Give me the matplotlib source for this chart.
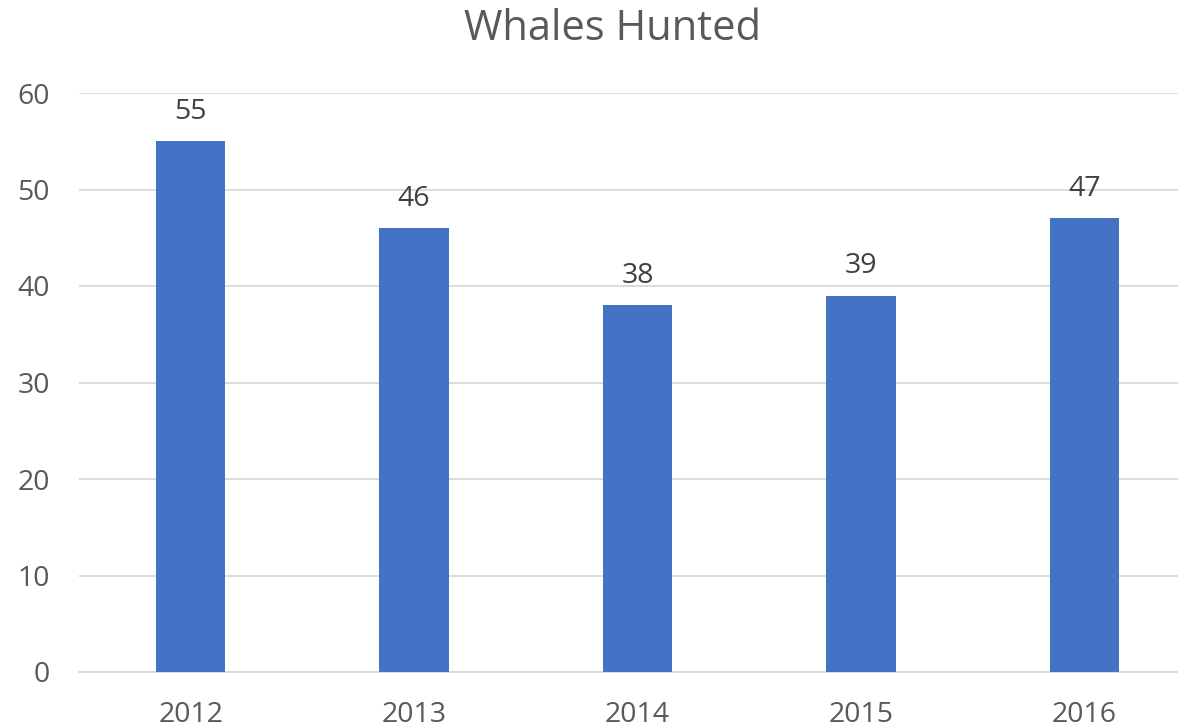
import matplotlib
matplotlib.use("Agg")
import matplotlib.pyplot as plt

years = ["2012", "2013", "2014", "2015", "2016"]
whales = [55, 46, 38, 39, 47]
yticks = [0, 10, 20, 30, 40, 50, 60]

W, H = 1178, 727
fig = plt.figure(figsize=(W / 100, H / 100), dpi=100)
plt.rcParams['font.family'] = ['Open Sans', 'DejaVu Sans']

left, right = 79, 1196
bottom, top = 672, 93
ax = fig.add_axes([left / W, (H - bottom) / H, (right - left) / W, (bottom - top) / H])

x = list(range(len(years)))
ax.bar(x, whales, width=0.31, color="#4472C4", zorder=3)
ax.set_xlim(-0.5, len(years) - 0.5)
ax.set_ylim(0, 60)
ax.set_yticks(yticks)
ax.set_xticks(x)
ax.set_xticklabels(years)
ax.grid(axis="y", color="#D9D9D9", linewidth=1.3, zorder=0)
for s in ["top", "right", "left"]:
    ax.spines[s].set_visible(False)
ax.spines["bottom"].set_color("#D9D9D9")
ax.spines["bottom"].set_linewidth(1.3)
ax.tick_params(axis="both", length=0, labelsize=20.5, colors="#595959")
ax.tick_params(axis="y", pad=21)
ax.tick_params(axis="x", pad=21)

for xi, v in zip(x, whales):
    ax.annotate(str(v), (xi, v), xytext=(0, 11), textcoords="offset points",
                ha="center", va="bottom", fontsize=20.5, color="#404040")

fig.text(613 / W, 1 - 29 / H, "Whales Hunted", ha="center", va="center",
         fontsize=30, color="#595959")

fig.savefig("out.png", dpi=100)
